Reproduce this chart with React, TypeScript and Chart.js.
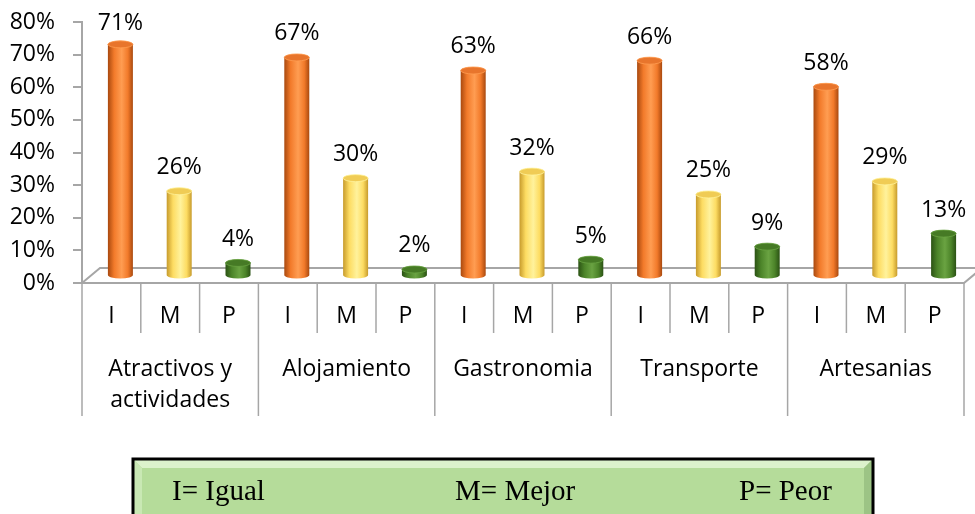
import React, { useEffect, useRef } from "react";
import { Chart, registerables } from "chart.js";
Chart.register(...registerables);

const groups: string[][] = [["Atractivos y", "actividades"], ["Alojamiento"], ["Gastronomia"], ["Transporte"], ["Artesanias"]];
const subLabels = ["I", "M", "P"];
const igual = [71, 67, 63, 66, 58];
const mejor = [26, 30, 32, 25, 29];
const peor = [4, 2, 5, 9, 13];
const yMax = 80;
const yStep = 10;
const legendItems = ["I= Igual", "M= Mejor", "P= Peor"];

const labels: string[] = [];
const values: number[] = [];
const seriesIdx: number[] = [];
groups.forEach((_, gi) => {
  const vals = [igual[gi], mejor[gi], peor[gi]];
  subLabels.forEach((s, si) => {
    labels.push(s);
    values.push(vals[si]);
    seriesIdx.push(si);
  });
});

const SANS = "'Open Sans', 'Noto Sans', sans-serif";
const FS = 23;
const palette = [
  { dark: "#a9490f", base: "#f27a2a", light: "#ff9d52", top: "#e8752c" },
  { dark: "#c79b2c", base: "#fddc62", light: "#fff29c", top: "#f0cc55" },
  { dark: "#2b5214", base: "#4c8429", light: "#6aa342", top: "#467a25" },
];
const DX = 9;
const DY = -7;
const DEPTH_X = 18;
const DEPTH_Y = -15;

function drawCyl(ctx: CanvasRenderingContext2D, cx: number, top: number, bottom: number, w: number, col: any) {
  const rx = w / 2;
  const ry = 3.5;
  const l = cx - rx;
  const r = cx + rx;
  const g = ctx.createLinearGradient(l, 0, r, 0);
  g.addColorStop(0, col.dark);
  g.addColorStop(0.25, col.base);
  g.addColorStop(0.55, col.light);
  g.addColorStop(0.8, col.base);
  g.addColorStop(1, col.dark);
  ctx.beginPath();
  ctx.moveTo(l, top);
  ctx.lineTo(l, bottom);
  ctx.ellipse(cx, bottom, rx, ry, 0, Math.PI, 0, true);
  ctx.lineTo(r, top);
  ctx.ellipse(cx, top, rx, ry, 0, 0, Math.PI, true);
  ctx.closePath();
  ctx.fillStyle = g;
  ctx.fill();
  ctx.beginPath();
  ctx.ellipse(cx, top, rx, ry, 0, 0, Math.PI * 2);
  ctx.fillStyle = col.top;
  ctx.fill();
  ctx.strokeStyle = col.light;
  ctx.lineWidth = 0.8;
  ctx.stroke();
}

const customPlugin = {
  id: "custom3d",
  beforeDatasetsDraw(chart: any) {
    const ctx = chart.ctx as CanvasRenderingContext2D;
    const xs = chart.scales.x;
    const ys = chart.scales.y;
    const y0 = ys.getPixelForValue(0);
    const left = xs.left;
    const right = xs.right;
    ctx.save();
    ctx.strokeStyle = "#a6a6a6";
    ctx.lineWidth = 2;
    ctx.beginPath();
    ctx.moveTo(left, y0);
    ctx.lineTo(left + DEPTH_X, y0 + DEPTH_Y);
    ctx.lineTo(right + DEPTH_X, y0 + DEPTH_Y);
    ctx.lineTo(right, y0);
    ctx.closePath();
    ctx.stroke();
    ctx.restore();
  },
  afterDatasetsDraw(chart: any) {
    const ctx = chart.ctx as CanvasRenderingContext2D;
    const meta = chart.getDatasetMeta(0);
    ctx.save();
    meta.data.forEach((el: any, i: number) => {
      const cx = el.x + DX;
      const top = el.y + DY;
      const bottom = el.base + DY;
      drawCyl(ctx, cx, top, bottom, el.width, palette[seriesIdx[i]]);
      ctx.fillStyle = "#000";
      ctx.font = `${FS}px ${SANS}`;
      ctx.textAlign = "center";
      ctx.textBaseline = "alphabetic";
      ctx.fillText(values[i] + "%", cx, Math.max(top - 17, 30));
    });
    ctx.restore();
  },
  afterDraw(chart: any) {
    const ctx = chart.ctx as CanvasRenderingContext2D;
    const xs = chart.scales.x;
    const ys = chart.scales.y;
    const y0 = ys.getPixelForValue(0);
    const n = labels.length;
    const half = (xs.getPixelForValue(1) - xs.getPixelForValue(0)) / 2;
    ctx.save();
    ctx.strokeStyle = "#a6a6a6";
    ctx.lineWidth = 1.5;
    for (let i = 0; i <= n; i++) {
      const x = i < n ? xs.getPixelForValue(i) - half : xs.getPixelForValue(n - 1) + half;
      const isGroup = i % 3 === 0;
      ctx.beginPath();
      ctx.moveTo(x, y0);
      ctx.lineTo(x, isGroup ? y0 + 133 : y0 + 50);
      ctx.stroke();
    }
    ctx.fillStyle = "#000";
    ctx.font = `${FS}px ${SANS}`;
    ctx.textAlign = "center";
    ctx.textBaseline = "alphabetic";
    for (let i = 0; i < n; i++) {
      ctx.fillText(labels[i], xs.getPixelForValue(i), y0 + 40);
    }
    groups.forEach((lines, gi) => {
      const cx = xs.getPixelForValue(gi * 3 + 1);
      lines.forEach((t, li) => {
        ctx.fillText(t, cx, y0 + 93 + li * 31);
      });
    });
    // legend box
    const bx = 133, by = 459, bw = 740, bh = 64;
    const bev = 9;
    ctx.fillStyle = "#b5dc9a";
    ctx.fillRect(bx, by, bw, bh);
    ctx.fillStyle = "#dcf2cc";
    ctx.beginPath();
    ctx.moveTo(bx, by); ctx.lineTo(bx + bw, by); ctx.lineTo(bx + bw - bev, by + bev); ctx.lineTo(bx + bev, by + bev); ctx.closePath(); ctx.fill();
    ctx.fillStyle = "#c9e8b4";
    ctx.beginPath();
    ctx.moveTo(bx, by); ctx.lineTo(bx + bev, by + bev); ctx.lineTo(bx + bev, by + bh - bev); ctx.lineTo(bx, by + bh); ctx.closePath(); ctx.fill();
    ctx.fillStyle = "#9cc485";
    ctx.beginPath();
    ctx.moveTo(bx + bw, by); ctx.lineTo(bx + bw - bev, by + bev); ctx.lineTo(bx + bw - bev, by + bh - bev); ctx.lineTo(bx + bw, by + bh); ctx.closePath(); ctx.fill();
    ctx.fillStyle = "#a2c98b";
    ctx.beginPath();
    ctx.moveTo(bx, by + bh); ctx.lineTo(bx + bev, by + bh - bev); ctx.lineTo(bx + bw - bev, by + bh - bev); ctx.lineTo(bx + bw, by + bh); ctx.closePath(); ctx.fill();
    ctx.strokeStyle = "#000";
    ctx.lineWidth = 3;
    ctx.strokeRect(bx, by, bw, bh);
    ctx.fillStyle = "#000";
    ctx.font = "29px 'Liberation Serif', 'Times New Roman', serif";
    ctx.textAlign = "left";
    const lx = [172, 455, 739];
    legendItems.forEach((t, i) => ctx.fillText(t, lx[i], 500));
    ctx.restore();
  },
};

export default function App() {
  const ref = useRef<HTMLCanvasElement>(null);
  useEffect(() => {
    if (!ref.current) return;
    const chart = new Chart(ref.current, {
      type: "bar",
      data: {
        labels,
        datasets: [
          {
            data: values,
            backgroundColor: "rgba(0,0,0,0)",
            borderWidth: 0,
            barPercentage: 0.85,
            categoryPercentage: 0.5,
          },
        ],
      },
      options: {
        responsive: false,
        animation: false,
        layout: { padding: { top: 22, right: 11, left: 0, bottom: 0 } },
        plugins: { legend: { display: false }, tooltip: { enabled: false } },
        scales: {
          x: {
            display: true,
            grid: { display: false, drawTicks: false },
            border: { display: false },
            ticks: { display: false },
            afterFit: (s: any) => { s.height = 231; s.paddingLeft = 0; s.paddingRight = 0; },
          },
          y: {
            min: 0,
            max: yMax,
            ticks: {
              stepSize: yStep,
              callback: (v: any) => v + "%",
              color: "#000",
              font: { family: SANS, size: FS },
              padding: 18,
            },
            grid: { drawOnChartArea: false, drawTicks: true, tickLength: 9, color: "#a6a6a6", lineWidth: 2 },
            border: { display: true, color: "#a6a6a6", width: 2 },
            afterFit: (s: any) => { s.width = 82; s.paddingTop = 0; s.paddingBottom = 0; },
          },
        },
      },
      plugins: [customPlugin],
    });
    return () => chart.destroy();
  }, []);
  return (
    <div style={{ position: "fixed", left: 0, top: 0, width: 975, height: 514, background: "#fff" }}>
      <canvas ref={ref} width={975} height={514} style={{ width: 975, height: 514, display: "block" }} />
    </div>
  );
}
